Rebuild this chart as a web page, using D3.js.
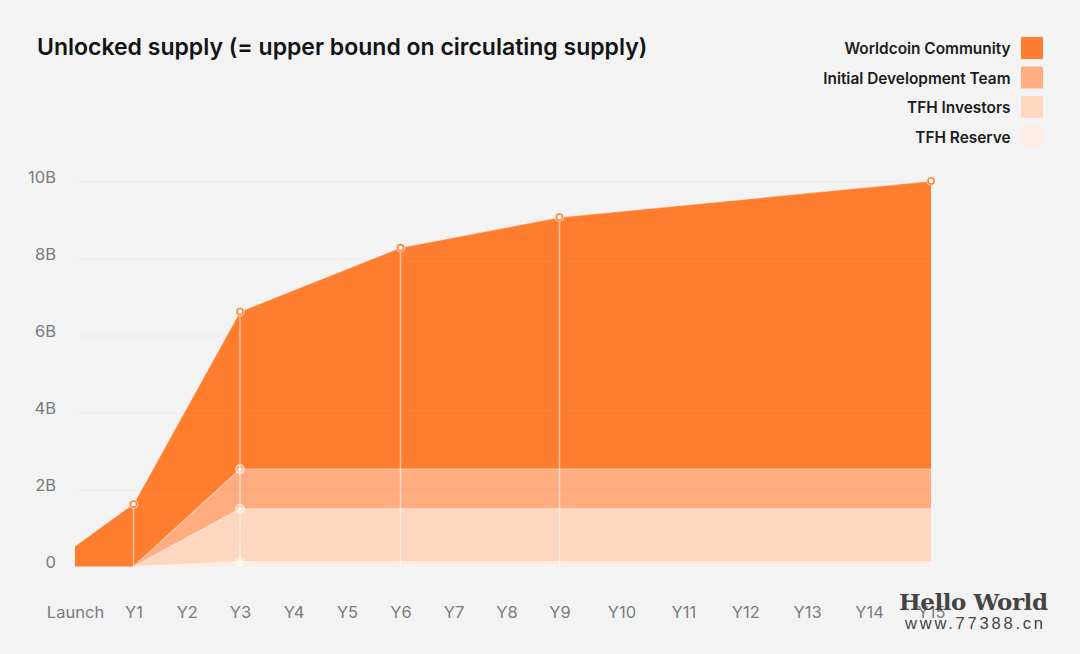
<!DOCTYPE html>
<html>
<head>
<meta charset="utf-8">
<script src="https://cdn.jsdelivr.net/npm/d3@7"></script>
<style>
    html, body { margin: 0; padding: 0; background: #f3f3f3; overflow: hidden; }
    text { font-family: Inter, "Noto Sans", sans-serif; }
</style>
</head>
<body>
<div id="canvas"></div>
<script>
// tick labels, position in the list is also the year number
const xLabels = ["Launch", "Y1", "Y2", "Y3", "Y4", "Y5", "Y6", "Y7", "Y8", "Y9", "Y10", "Y11", "Y12", "Y13", "Y14", "Y15"];
const yTicks = [0, 2, 4, 6, 8, 10];

// the years where the curves have a knot
const knotYears = [0, 1, 3, 6, 9, 15];

// unlocked supply per group in billions, one value per knot
const tfhReserve = [0, 0, 0.13, 0.13, 0.13, 0.13];
const tfhInvestors = [0, 0, 1.37, 1.37, 1.37, 1.37];
const devTeam = [0, 0, 1.03, 1.03, 1.03, 1.03];
const community = [0.52, 1.62, 4.09, 5.75, 6.54, 7.48];

const seriesNames = ["TFH Reserve", "TFH Investors", "Initial Development Team", "Worldcoin Community"];
const seriesColors = ["#ffece3", "#ffd6bf", "#ffad80", "#ff7d2e"];
const seriesValues = [tfhReserve, tfhInvestors, devTeam, community];

const width = 1080, height = 654;

const svg = d3.select("#canvas")
    .append("svg")
    .attr("width", width)
    .attr("height", height)
    .style("display", "block");

// the year axis is not even, Launch-Y1 and Y9-Y15 are wider
const x = d3.scaleLinear()
    .domain([0, 1, 3, 6, 9, 15])
    .range([75, 133.5, 240, 400.5, 559.5, 931]);

const y = d3.scaleLinear()
    .domain([0, 10])
    .range([566.5, 181.5]);

const rows = knotYears.map(function(year, i) {
    const row = {year: year};
    seriesNames.forEach(function(name, s) { row[name] = seriesValues[s][i]; });
    return row;
});
const stacked = d3.stack().keys(seriesNames)(rows);

const area = d3.area()
    .x(function(d) { return x(d.data.year); })
    .y0(function(d) { return y(d[0]); })
    .y1(function(d) { return y(d[1]); });

const topLine = d3.line()
    .x(function(d) { return x(d.data.year); })
    .y(function(d) { return y(d[1]); });

svg.append("g").selectAll("path")
    .data(stacked)
    .join("path")
    .attr("d", area)
    .attr("fill", function(d, i) { return seriesColors[i]; });

// faint gridlines, they show through the areas a little
const grid = svg.append("g")
    .attr("transform", `translate(75,0)`)
    .call(d3.axisLeft(y).tickValues(yTicks).tickSize(-(x(15) - x(0))).tickFormat(function(d) { return d === 0 ? "0" : d + "B"; }));
grid.select(".domain").remove();
grid.selectAll("line").attr("stroke", "#000").attr("stroke-opacity", 0.035);
grid.selectAll("text")
    .attr("x", -19)
    .attr("dy", "0.08em")
    .attr("fill", "#7b7b7b")
    .style("font-size", "16.5px");
grid.selectAll(".tick").filter(function(d) { return d === 0; }).select("line").remove();

// light edge on top of each band
svg.append("g").selectAll("path")
    .data(stacked)
    .join("path")
    .attr("d", function(d) { return topLine(d.filter(function(p) { return p.data.year >= 1; })); })
    .attr("fill", "none")
    .attr("stroke", "#fff")
    .attr("stroke-opacity", 0.4)
    .attr("stroke-width", 1.2);

// vertical drop lines from the top curve
const dropRows = stacked[3].filter(function(d) { return d.data.year > 0 && d.data.year < 15; });
svg.append("g").selectAll("line")
    .data(dropRows)
    .join("line")
    .attr("x1", function(d) { return x(d.data.year); })
    .attr("x2", function(d) { return x(d.data.year); })
    .attr("y1", function(d) { return y(d[1]); })
    .attr("y2", y(0))
    .attr("stroke", "#fff")
    .attr("stroke-opacity", 0.55)
    .attr("stroke-width", 1.5);

// markers on the top curve: pale halo, orange ring, white centre
const topMarkers = stacked[3].filter(function(d) { return d.data.year > 0; });
const topMarks = svg.append("g").selectAll("g")
    .data(topMarkers)
    .join("g")
    .attr("transform", function(d) { return `translate(${x(d.data.year)},${y(d[1])})`; });
topMarks.append("circle")
    .attr("r", 4.6)
    .attr("fill", "#ffd6bf");
topMarks.append("circle")
    .attr("r", 3)
    .attr("fill", "#fff")
    .attr("stroke", "#ff7d2e")
    .attr("stroke-width", 1.4);

// markers on the lower bands at Y3: white ring, white centre
const lowMarkers = stacked.slice(0, 3).map(function(s) {
    return s.find(function(d) { return d.data.year === 3; });
});
const lowMarks = svg.append("g").selectAll("g")
    .data(lowMarkers)
    .join("g")
    .attr("transform", function(d) { return `translate(${x(d.data.year)},${y(d[1])})`; });
lowMarks.append("circle")
    .attr("r", 4.2)
    .attr("fill", "#fff")
    .attr("fill-opacity", 0.25)
    .attr("stroke", "#fff")
    .attr("stroke-opacity", 0.85)
    .attr("stroke-width", 1.1);
lowMarks.append("circle")
    .attr("r", 1.9)
    .attr("fill", "#fff");

// x labels, no axis line
const xAxis = svg.append("g")
    .attr("transform", `translate(0,${y(0)})`)
    .call(d3.axisBottom(x).tickValues(d3.range(16)).tickSize(0).tickFormat(function(d) { return xLabels[d]; }));
xAxis.select(".domain").remove();
xAxis.selectAll("text")
    .attr("y", 40)
    .attr("fill", "#7b7b7b")
    .style("font-size", "16.5px");

// title
svg.append("text")
    .attr("x", 37)
    .attr("y", 55)
    .attr("fill", "#141414")
    .style("font-size", "23px")
    .style("font-weight", 600)
    .text("Unlocked supply (= upper bound on circulating supply)");

// legend, Worldcoin Community on top
const legendOrder = d3.range(seriesNames.length).reverse();
const legend = svg.append("g").selectAll("g")
    .data(legendOrder)
    .join("g")
    .attr("transform", function(d, i) { return `translate(1021,${37 + i * 29.5})`; });
legend.append("rect")
    .attr("width", 22)
    .attr("height", 22)
    .attr("fill", function(d) { return seriesColors[d]; });
legend.append("text")
    .attr("x", -10.5)
    .attr("y", 17)
    .attr("text-anchor", "end")
    .attr("fill", "#1c1c1c")
    .style("font-size", "15.4px")
    .style("font-weight", 600)
    .text(function(d) { return seriesNames[d]; });

// site stamp in the corner of the reference
svg.append("text")
    .attr("x", 899)
    .attr("y", 610)
    .attr("fill", "#444")
    .style("font-family", "'DejaVu Serif', serif")
    .style("font-size", "23px")
    .style("font-weight", 700)
    .attr("textLength", 149)
    .text("Hello World");
svg.append("text")
    .attr("x", 905)
    .attr("y", 629)
    .attr("fill", "#444")
    .style("font-family", "'Liberation Sans', sans-serif")
    .style("font-size", "16.5px")
    .attr("textLength", 138)
    .text("www.77388.cn");
</script>
</body>
</html>
